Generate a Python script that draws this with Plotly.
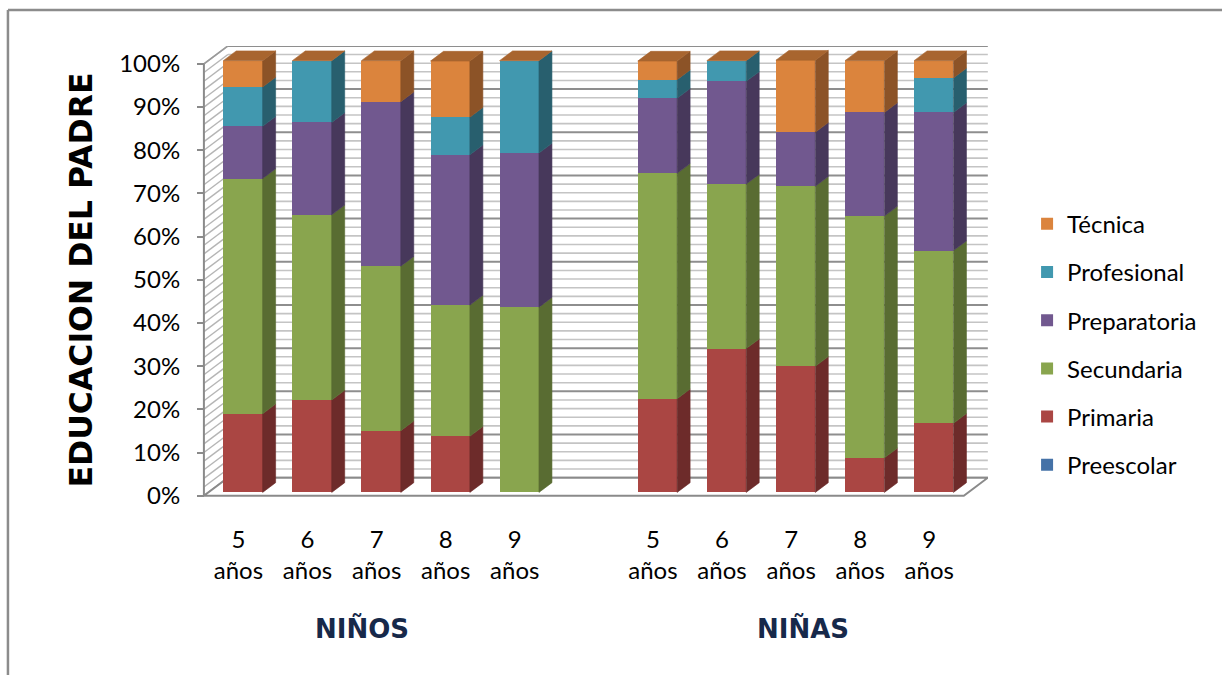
import plotly.graph_objects as go

# ---- data: share (%) of each education level of the father, by age ----
series = ["Preescolar", "Primaria", "Secundaria", "Preparatoria", "Profesional", "Técnica"]
age_labels = ["5<br>años", "6<br>años", "7<br>años", "8<br>años", "9<br>años"]
groups = ["NIÑOS", "NIÑAS"]

preescolar_ninos = [0, 0, 0, 0, 0]
primaria_ninos = [18.2, 21.4, 14.3, 13.0, 0]
secundaria_ninos = [54.5, 42.9, 38.1, 30.4, 42.9]
preparatoria_ninos = [12.1, 21.4, 38.1, 34.8, 35.7]
profesional_ninos = [9.1, 14.3, 0, 8.7, 21.4]
tecnica_ninos = [6.1, 0, 9.5, 13.0, 0]

preescolar_ninas = [0, 0, 0, 0, 0]
primaria_ninas = [21.7, 33.3, 29.2, 8.0, 16.0]
secundaria_ninas = [52.2, 38.1, 41.7, 56.0, 40.0]
preparatoria_ninas = [17.4, 23.8, 12.5, 24.0, 32.0]
profesional_ninas = [4.3, 4.8, 0, 0, 8.0]
tecnica_ninas = [4.3, 0, 16.7, 12.0, 4.0]

values = {
    "Preescolar": preescolar_ninos + preescolar_ninas,
    "Primaria": primaria_ninos + primaria_ninas,
    "Secundaria": secundaria_ninos + secundaria_ninas,
    "Preparatoria": preparatoria_ninos + preparatoria_ninas,
    "Profesional": profesional_ninos + profesional_ninas,
    "Técnica": tecnica_ninos + tecnica_ninas,
}

# ---- styling ----
front = {"Preescolar": "#4572A7", "Primaria": "#AA4643", "Secundaria": "#89A54E",
         "Preparatoria": "#71588F", "Profesional": "#4198AF", "Técnica": "#DB843D"}
side = {"Preescolar": "#2B4870", "Primaria": "#6D2B2A", "Secundaria": "#596C32",
        "Preparatoria": "#47385B", "Profesional": "#285F6E", "Técnica": "#8C5327"}
top = {"Preescolar": "#36598A", "Primaria": "#883836", "Secundaria": "#6E843E",
       "Preparatoria": "#5A4672", "Profesional": "#2E6F80", "Técnica": "#A8652F"}

FONT = "Lato, Calibri, sans-serif"
HEAVY = "DejaVu Sans, sans-serif"

# slot positions: one empty slot separates the two groups
xpos = [0, 1, 2, 3, 4, 6, 7, 8, 9, 10]

BAR_W = 0.57
SHIFT_X, SHIFT_Y = 0.065, 0.76      # bars sit a little behind the front plane
DEPTH_X, DEPTH_Y = 0.188, 2.25      # bar depth in the oblique projection
WALL_X, WALL_Y = 0.3475, 4.17       # depth of floor / side wall
X0, X1 = -0.5, 10.5                 # front plane extent

fig = go.Figure()

# stack bases
cum = [0.0] * len(xpos)
bases = {}
for s in series:
    bases[s] = [SHIFT_Y + c for c in cum]
    cum = [c + v for c, v in zip(cum, values[s])]

# front faces (added top level first so the legend lists Técnica first)
for s in reversed(series):
    fig.add_trace(go.Bar(
        x=[x + SHIFT_X for x in xpos], y=values[s], base=bases[s], width=BAR_W,
        name=s, legendgroup=s, marker=dict(color=front[s], line=dict(width=0)),
        hoverinfo="skip"))

# side faces
for s in series:
    xs, ys = [], []
    for x, b, v in zip(xpos, bases[s], values[s]):
        if v <= 0:
            continue
        xr = x + SHIFT_X + BAR_W / 2
        xs += [xr, xr + DEPTH_X, xr + DEPTH_X, xr, xr, None]
        ys += [b, b + DEPTH_Y, b + v + DEPTH_Y, b + v, b, None]
    if xs:
        fig.add_trace(go.Scatter(x=xs, y=ys, mode="lines", fill="toself",
                                 fillcolor=side[s], line=dict(width=0.6, color=side[s]),
                                 legendgroup=s, showlegend=False, hoverinfo="skip"))

# top faces: the cap of every stack belongs to the last level of the stack
cap = series[-1]
xs, ys = [], []
for j, x in enumerate(xpos):
    h = bases[cap][j] + values[cap][j]
    xl = x + SHIFT_X - BAR_W / 2
    xr = x + SHIFT_X + BAR_W / 2
    xs += [xl, xr, xr + DEPTH_X, xl + DEPTH_X, xl, None]
    ys += [h, h, h + DEPTH_Y, h + DEPTH_Y, h, None]
fig.add_trace(go.Scatter(x=xs, y=ys, mode="lines", fill="toself",
                         fillcolor=top[cap], line=dict(width=0.6, color=top[cap]),
                         legendgroup=cap, showlegend=False, hoverinfo="skip"))

# ---- walls, floor and gridlines ----
shapes = []
GRID_MAJOR = "#8E8E8E"
GRID_MINOR = "#C4C4C4"
for v in range(0, 101, 2):
    major = v % 10 == 0
    # back wall line
    shapes.append(dict(type="line", xref="x", yref="y", layer="below",
                       x0=X0 + WALL_X, x1=X1 + WALL_X, y0=v + WALL_Y, y1=v + WALL_Y,
                       line=dict(color=GRID_MAJOR if major else GRID_MINOR, width=2 if major else 1.6)))
    # side wall hatch
    shapes.append(dict(type="line", xref="x", yref="y", layer="below",
                       x0=X0, x1=X0 + WALL_X, y0=v, y1=v + WALL_Y,
                       line=dict(color="#B5B5B5", width=1.4)))
# floor
shapes.append(dict(type="path", xref="x", yref="y", layer="below",
                   path=f"M {X0},0 L {X1},0 L {X1 + WALL_X},{WALL_Y} L {X0 + WALL_X},{WALL_Y} Z",
                   fillcolor="white", line=dict(color="#8A8A8A", width=2)))
# vertical axis edge and top of side wall
shapes.append(dict(type="line", xref="x", yref="y", x0=X0, x1=X0, y0=0, y1=100,
                   line=dict(color="#8A8A8A", width=2)))
shapes.append(dict(type="line", xref="x", yref="y", layer="below",
                   x0=X0, x1=X0 + WALL_X, y0=100, y1=100 + WALL_Y,
                   line=dict(color="#9A9A9A", width=1.6)))
# chart frame
shapes.append(dict(type="line", xref="paper", yref="paper", x0=-0.239, x1=1.35,
                   y0=1.0793, y1=1.0793, line=dict(color="#8C8C8C", width=2.5)))
shapes.append(dict(type="line", xref="paper", yref="paper", x0=-0.239, x1=-0.239,
                   y0=1.0793, y1=-0.5, line=dict(color="#8C8C8C", width=2.5)))

annotations = [
    dict(text="EDUCACION DEL PADRE", xref="paper", yref="paper", x=-0.1454, y=0.4857,
         textangle=-90, showarrow=False, xanchor="center", yanchor="middle",
         font=dict(family=HEAVY, size=31.5, color="black", weight="bold")),
    dict(text=groups[0], xref="paper", yref="paper", x=0.2086, y=-0.282,
         showarrow=False, xanchor="center", yanchor="middle",
         font=dict(family=HEAVY, size=26, color="#17294A", weight="bold")),
    dict(text=groups[1], xref="paper", yref="paper", x=0.766, y=-0.282,
         showarrow=False, xanchor="center", yanchor="middle",
         font=dict(family=HEAVY, size=26, color="#17294A", weight="bold")),
]

fig.update_layout(
    width=1222, height=675,
    margin=dict(l=197, r=234, t=46, b=175),
    paper_bgcolor="white", plot_bgcolor="white",
    barmode="overlay", bargap=0,
    shapes=shapes, annotations=annotations,
    showlegend=True,
    legend=dict(x=1.0494, y=0.657, xanchor="left", yanchor="top",
                traceorder="grouped", tracegroupgap=14,
                font=dict(family=FONT, size=24, color="black"),
                bgcolor="rgba(0,0,0,0)"),
    xaxis=dict(range=[-0.6, 10.85], showgrid=False, zeroline=False, showline=False,
               tickmode="array", tickvals=xpos, ticktext=age_labels * 2,
               ticks="", ticklabelstandoff=23,
               tickfont=dict(family=FONT, size=24, color="black")),
    yaxis=dict(range=[-1, 104.15], showgrid=False, zeroline=False, showline=False,
               anchor="free", position=(204 - 197) / 791,
               tickmode="array", tickvals=list(range(0, 101, 10)),
               ticktext=[f"{v}%" for v in range(0, 101, 10)],
               ticks="outside", ticklen=7, tickwidth=2, tickcolor="#8A8A8A",
               ticklabelstandoff=12,
               tickfont=dict(family=FONT, size=24, color="black")),
)

fig.write_html("out.html")
